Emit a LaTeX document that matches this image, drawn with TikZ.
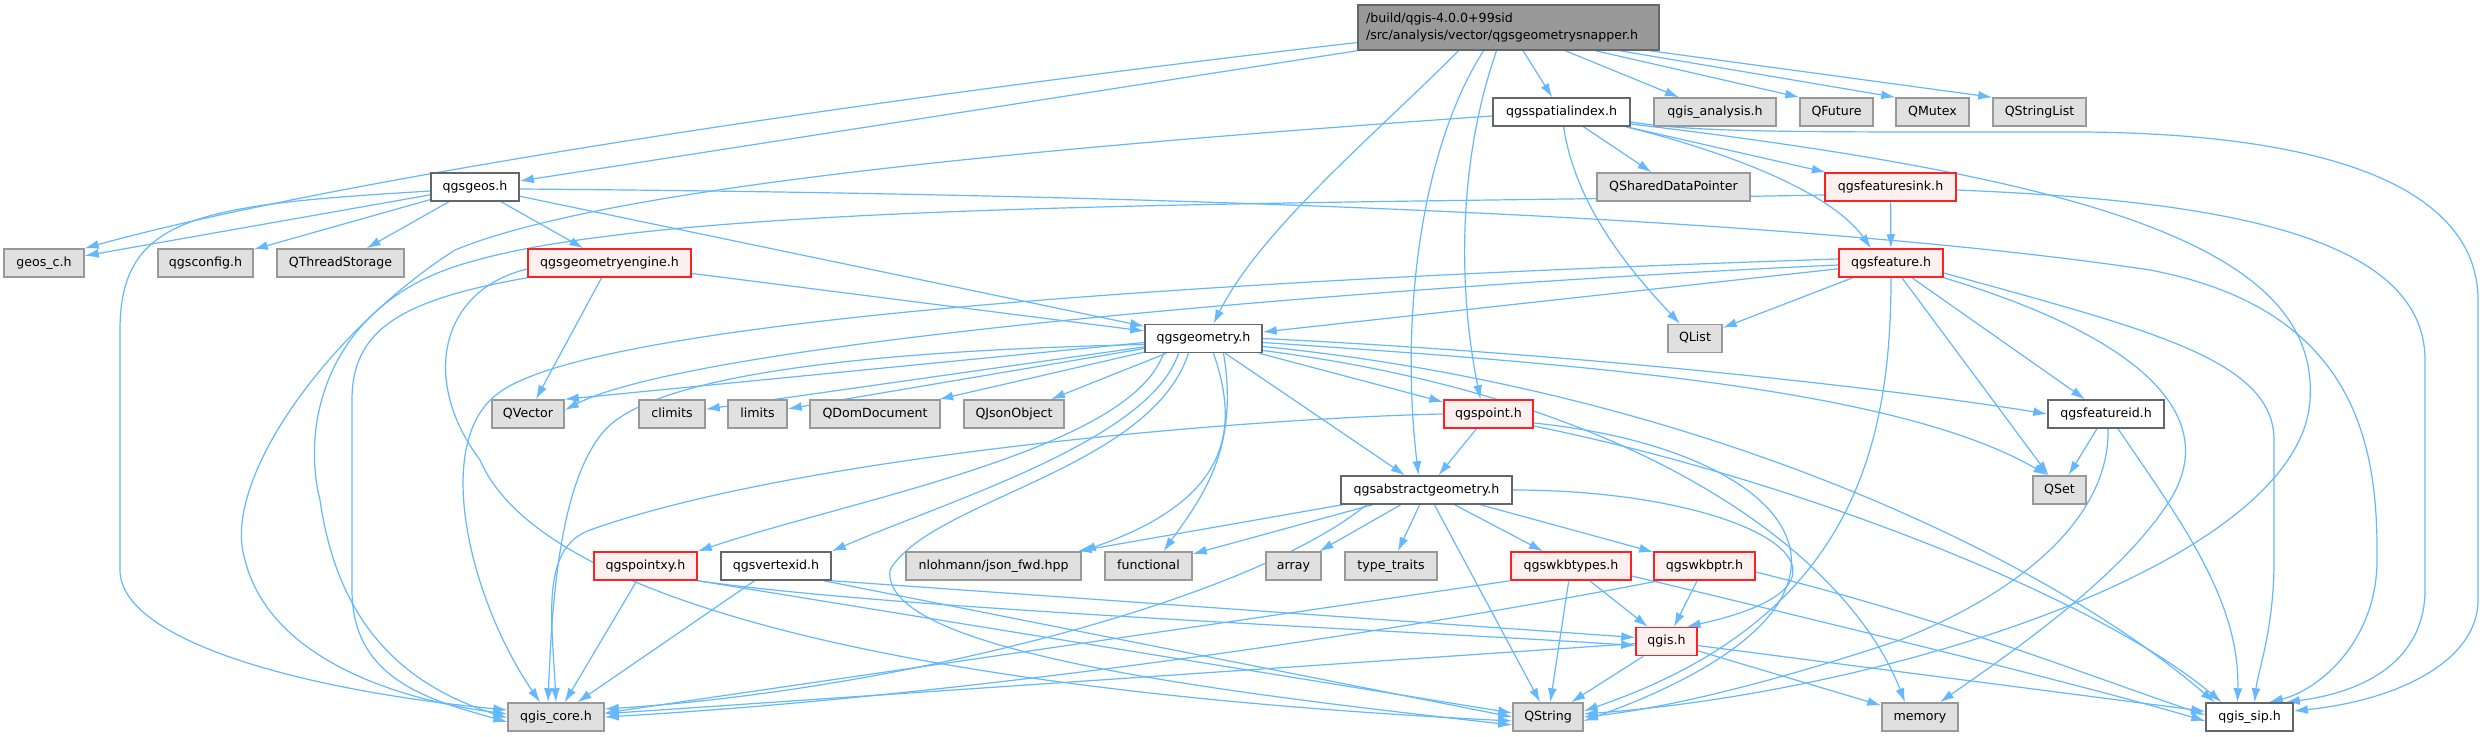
\documentclass[tikz,border=0pt]{standalone}
\usepackage{fontspec}
\setmainfont{DejaVu Sans}
\usetikzlibrary{arrows.meta}
\definecolor{edgeblue}{HTML}{63B8FF}
\definecolor{extfill}{HTML}{E0E0E0}
\definecolor{extdraw}{HTML}{999999}
\definecolor{docdraw}{HTML}{666666}
\definecolor{truncfill}{HTML}{FFF0F0}
\definecolor{truncdraw}{HTML}{FF2020}
\definecolor{rootfill}{HTML}{999999}
\pgfdeclarelayer{edges}
\pgfsetlayers{edges,main}

\begin{document}
\begin{tikzpicture}[x=1pt,y=-1pt,
box/.style={
	draw, line width=1.5pt, minimum height=28pt, inner sep=0pt,
	text height=9.3pt, text depth=2.9pt, text=black,
	font=\fontsize{12.6}{15}\selectfont
},
ext/.style={box, fill=extfill, draw=extdraw},
doc/.style={box, fill=white, draw=docdraw},
trunc/.style={box, fill=truncfill, draw=truncdraw},
root/.style={
	draw=docdraw, fill=rootfill, line width=1.5pt, minimum height=45pt,
	inner xsep=8pt, inner ysep=0pt, text width=285pt, align=left,
	font=\fontsize{12.6}{17}\selectfont
},
dep/.style={draw=edgeblue, line width=1.2pt, -{Latex[length=14pt,width=9pt]}}
]
\useasboundingbox (0,0) rectangle (2483,736);
\node[root] (snap) at (1508.5,27.5) {/build/qgis-4.0.0+99sid\\/src/analysis/vector/qgsgeometrysnapper.h};
\node[doc,minimum width=137pt] (sidx) at (1561.5,112) {qgsspatialindex.h};
\node[ext,minimum width=122pt] (qana) at (1715,112) {qgis\_analysis.h};
\node[ext,minimum width=73pt] (qfut) at (1836.5,112) {QFuture};
\node[ext,minimum width=73pt] (qmut) at (1932.5,112) {QMutex};
\node[ext,minimum width=93pt] (qsl) at (2039.5,112) {QStringList};
\node[doc,minimum width=88pt] (geos) at (475,187) {qgsgeos.h};
\node[ext,minimum width=153pt] (qsdp) at (1673.5,187) {QSharedDataPointer};
\node[trunc,minimum width=131pt] (fsink) at (1890.5,187) {qgsfeaturesink.h};
\node[ext,minimum width=80pt] (geosc) at (44,263) {geos\_c.h};
\node[ext,minimum width=95pt] (qcfg) at (205.5,263) {qgsconfig.h};
\node[ext,minimum width=127pt] (qts) at (340.5,263) {QThreadStorage};
\node[trunc,minimum width=163pt] (geng) at (609.5,263) {qgsgeometryengine.h};
\node[trunc,minimum width=104pt] (feat) at (1891,263) {qgsfeature.h};
\node[doc,minimum width=117pt] (geom) at (1203.5,338.5) {qgsgeometry.h};
\node[ext,minimum width=54pt] (qlist) at (1695,338.5) {QList};
\node[ext,minimum width=72pt] (qvec) at (528,414) {QVector};
\node[ext,minimum width=66pt] (clim) at (672,414) {climits};
\node[ext,minimum width=59pt] (lim) at (757.5,414) {limits};
\node[ext,minimum width=130pt] (qdom) at (875,414) {QDomDocument};
\node[ext,minimum width=100pt] (qjson) at (1014,414) {QJsonObject};
\node[trunc,minimum width=89pt] (point) at (1488.5,414) {qgspoint.h};
\node[doc,minimum width=116pt] (fid) at (2106,414) {qgsfeatureid.h};
\node[doc,minimum width=171pt] (abs) at (1426.5,490) {qgsabstractgeometry.h};
\node[ext,minimum width=53pt] (qset) at (2059.5,490) {QSet};
\node[trunc,minimum width=103pt] (pxy) at (645.5,566) {qgspointxy.h};
\node[doc,minimum width=110pt] (vid) at (776,566) {qgsvertexid.h};
\node[ext,minimum width=175pt] (json) at (993.5,566) {nlohmann/json\_fwd.hpp};
\node[ext,minimum width=87pt] (func) at (1148.5,566) {functional};
\node[ext,minimum width=55pt] (arr) at (1293.5,566) {array};
\node[ext,minimum width=92pt] (tt) at (1391,566) {type\_traits};
\node[trunc,minimum width=120pt] (wkbt) at (1571,566) {qgswkbtypes.h};
\node[trunc,minimum width=101pt] (wkbp) at (1704.5,566) {qgswkbptr.h};
\node[trunc,minimum width=61pt] (qgis) at (1666.5,641.5) {qgis.h};
\node[ext,minimum width=96pt] (core) at (556,717) {qgis\_core.h};
\node[ext,minimum width=70pt] (qstr) at (1548,717) {QString};
\node[ext,minimum width=76pt] (mem) at (1920,717) {memory};
\node[doc,minimum width=87pt] (sip) at (2249.5,717) {qgis\_sip.h};
\begin{pgfonlayer}{edges}
\fill[white] (0,0) rectangle (2483,736);
\foreach \a/\b in {snap/sidx, snap/qana, geos/geosc, geos/qcfg, geos/qts, geos/geng, geos/geom,
	sidx/qsdp, sidx/fsink, fsink/feat, geng/qvec, geng/geom, feat/geom, feat/qlist, feat/fid, feat/qset,
	geom/clim, geom/lim, geom/qdom, geom/qjson, geom/point, geom/abs, point/abs,
	abs/arr, abs/tt, abs/wkbt, abs/wkbp, abs/qstr, abs/json, abs/func,
	wkbt/qgis, wkbt/qstr, wkbp/qgis, qgis/qstr, qgis/mem, qgis/sip, qgis/core, fid/qset, pxy/core, vid/core}
{
	\draw[dep] (\a) -- (\b);
}
\draw[dep] ([xshift=87pt]snap.south) -- (qfut.north west);
\draw[dep] ([xshift=-40pt]snap.south east) -- (qmut.north west);
\draw[dep] ([xshift=-10pt]snap.south east) -- (qsl.north west);
\draw[dep] ([yshift=-15pt]snap.west) .. controls (900,95) and (350,175) .. (geosc.north east);
\draw[dep] (snap.south west) -- ([yshift=6pt]geos.east);
\draw[dep] ([xshift=-50pt]snap.south) .. controls (1380,130) and (1260,230) .. ([xshift=10pt]geom.north);
\draw[dep] ([xshift=-25pt]snap.south) .. controls (1420,150) and (1400,320) .. ([xshift=-8pt]abs.north);
\draw[dep] ([xshift=-12pt]snap.south) .. controls (1455,170) and (1460,300) .. ([xshift=-8pt]point.north);
\draw[dep] ([yshift=-4pt]geos.west) .. controls (200,205) and (120,215) .. (120,330) -- (120,570) .. controls (120,640) and (300,690) .. ([yshift=7pt]core.west);
\draw[dep] ([yshift=-2pt]geos.east) .. controls (1300,195) and (1850,225) .. (2150,270) .. controls (2360,310) and (2378,450) .. (2377,560) .. controls (2377,640) and (2320,690) .. ([xshift=-25pt]sip.north east);
\draw[dep] ([yshift=-4pt]sidx.west) .. controls (1000,150) and (600,190) .. (455,250) .. controls (330,330) and (220,480) .. (245,560) .. controls (270,660) and (400,700) .. ([yshift=3pt]core.west);
\draw[dep] ([xshift=2pt]sidx.south) .. controls (1575,200) and (1620,260) .. ([xshift=-15pt]qlist.north);
\draw[dep] ([xshift=-5pt]sidx.south east) .. controls (1720,150) and (1830,190) .. ([xshift=-20pt]feat.north);
\draw[dep] ([yshift=-10pt]sidx.east) .. controls (1700,133) and (1800,132) .. (2084,132) .. controls (2400,135) and (2478,220) .. (2478,300) -- (2478,600) .. controls (2478,660) and (2400,700) .. ([yshift=6pt]sip.east);
\draw[dep] ([yshift=-12pt]sidx.east) .. controls (2100,180) and (2320,250) .. (2310,400) .. controls (2300,560) and (1900,690) .. ([yshift=3pt]qstr.east);
\draw[dep] ([yshift=-8pt]fsink.west) .. controls (1300,205) and (680,200) .. (470,262) .. controls (330,300) and (300,420) .. (320,500) .. controls (340,640) and (420,690) .. ([yshift=-1pt]core.west);
\draw[dep] ([yshift=-3pt]fsink.east) .. controls (2200,200) and (2425,230) .. (2425,360) -- (2425,590) .. controls (2425,650) and (2380,690) .. ([xshift=-8pt]sip.north east);
\draw[dep] (geng.south west) .. controls (400,300) and (352,330) .. (352,400) -- (352,590) .. controls (352,680) and (430,700) .. ([yshift=-5pt]core.west);
\draw[dep] ([yshift=-6pt]geng.west) .. controls (440,290) and (420,380) .. (480,460) .. controls (540,600) and (900,690) .. ([yshift=-4pt]qstr.west);
\draw[dep] ([yshift=4pt]feat.west) .. controls (1200,280) and (600,320) .. (500,392) .. controls (430,440) and (470,600) .. ([xshift=-16pt]core.north);
\draw[dep] ([yshift=-2pt]feat.west) .. controls (1400,285) and (700,340) .. ([yshift=4pt]qvec.east);
\draw[dep] (feat.south) .. controls (1891,450) and (1850,620) .. ([yshift=6pt]qstr.east);
\draw[dep] (feat.south east) .. controls (2150,340) and (2220,420) .. (2170,500) .. controls (2120,580) and (2000,660) .. ([xshift=20pt]mem.north);
\draw[dep] ([yshift=-10pt]feat.east) .. controls (2150,330) and (2274,360) .. (2274,440) -- (2274,560) .. controls (2274,630) and (2258,670) .. ([xshift=5pt]sip.north);
\draw[dep] ([yshift=-4pt]geom.west) -- (qvec.north east);
\draw[dep] ([yshift=-6pt]geom.west) .. controls (900,350) and (660,370) .. (605,430) .. controls (560,480) and (552,600) .. ([xshift=-8pt]core.north);
\draw[dep] ([xshift=-40pt]geom.south) .. controls (1130,450) and (850,500) .. (pxy.north east);
\draw[dep] ([xshift=-25pt]geom.south) .. controls (1150,440) and (950,500) .. (vid.north east);
\draw[dep] ([xshift=10pt]geom.south) .. controls (1240,430) and (1230,500) .. (json.north east);
\draw[dep] ([xshift=20pt]geom.south) .. controls (1240,450) and (1200,500) .. ([xshift=15pt]func.north);
\draw[dep] ([xshift=-15pt]geom.south) .. controls (1150,470) and (930,500) .. (890,570) .. controls (880,650) and (1200,690) .. ([yshift=-8pt]qstr.west);
\draw[dep] (geom.east) .. controls (1600,355) and (1900,390) .. (fid.west);
\draw[dep] ([yshift=-4pt]geom.east) .. controls (1600,365) and (1900,390) .. ([xshift=-12pt]qset.north);
\draw[dep] ([yshift=-8pt]geom.east) .. controls (1700,390) and (2050,560) .. ([xshift=-35pt]sip.north);
\draw[dep] ([yshift=-12pt]geom.east) .. controls (1650,400) and (1850,560) .. ([xshift=-15pt]mem.north);
\draw[dep] (point.west) .. controls (1250,418) and (800,455) .. (590,530) .. controls (540,548) and (552,620) .. (core.north);
\draw[dep] ([yshift=-9pt]point.east) .. controls (1800,450) and (1920,600) .. ([yshift=-4pt]qstr.east);
\draw[dep] ([yshift=-12pt]point.east) .. controls (1800,480) and (2100,600) .. ([xshift=-28pt]sip.north);
\draw[dep] (abs.east) .. controls (1750,490) and (1900,580) .. ([xshift=20pt]qgis.north);
\draw[dep] ([xshift=-60pt]abs.south) .. controls (1250,600) and (900,690) .. ([yshift=8pt]core.east);
\draw[dep] (wkbt.south west) -- ([yshift=4pt]core.east);
\draw[dep] ([xshift=6pt]wkbp.south west) .. controls (1300,650) and (900,700) .. (core.east);
\draw[dep] (pxy.south east) .. controls (900,610) and (1400,630) .. ([yshift=-4pt]qgis.west);
\draw[dep] (pxy.south east) -- ([yshift=4pt]qstr.west);
\draw[dep] (vid.south east) -- ([yshift=4pt]qgis.west);
\draw[dep] ([xshift=-8pt]vid.south east) -- (qstr.west);
\draw[dep] ([yshift=-10pt]wkbt.east) .. controls (1900,640) and (2100,690) .. ([yshift=-4pt]sip.west);
\draw[dep] ([yshift=-6pt]wkbp.east) .. controls (1950,620) and (2100,680) .. ([yshift=2pt]sip.west);
\draw[dep] ([xshift=2pt]fid.south) .. controls (2110,500) and (2050,580) .. (1900,640) .. controls (1750,690) and (1650,710) .. (qstr.east);
\draw[dep] ([xshift=12pt]fid.south) .. controls (2180,520) and (2240,600) .. ([xshift=-12pt]sip.north);
\end{pgfonlayer}
\end{tikzpicture}
\end{document}
